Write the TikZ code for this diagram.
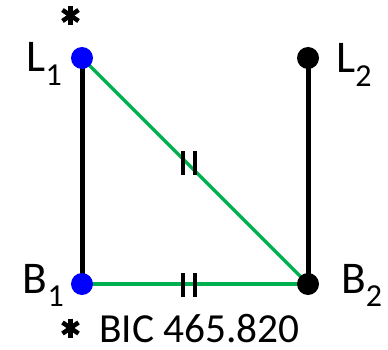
\documentclass[tikz,border=0pt]{standalone}
\usepackage{fontspec}
\setmainfont{Carlito}
\definecolor{pptgreen}{RGB}{0,176,80}
\definecolor{ptblue}{RGB}{0,0,255}
\tikzset{
  px/.style={x=0.75pt,y=-0.75pt},
  blackline/.style={line width=3.75pt,black},
  greenline/.style={line width=2.6pt,pptgreen},
  dot/.style={circle,inner sep=0pt,minimum size=16.5pt},
  lbl/.style={inner sep=0pt,font=\fontsize{34}{40}\selectfont},
  tick/.style={line width=3pt,black},
  starline/.style={line width=3.4pt,black},
  pics/asterisk/.style={code={
    \draw[starline] (0,-9.5) -- (0,9.5);
    \draw[starline] (-8,-5.5) -- (8,5.5);
    \draw[starline] (-8,5.5) -- (8,-5.5);
  }}
}
\newcommand{\sbs}[1]{{\fontsize{24}{24}\selectfont\raisebox{-10pt}{#1}}}
\begin{document}
\begin{tikzpicture}[px]
\useasboundingbox (0,0) rectangle (388,349);
\coordinate (l1) at (82,58);
\coordinate (b1) at (82,284);
\coordinate (l2) at (308,58);
\coordinate (b2) at (308,284);
\draw[blackline] (l1) -- (b1);
\draw[blackline] (l2) -- (b2);
\draw[greenline] (l1) -- (b2);
\draw[greenline] (b1) -- (b2);
\node[dot,fill=ptblue] (L1) at (l1) {};
\node[dot,fill=ptblue] (B1) at (b1) {};
\node[dot,fill=black] (L2) at (l2) {};
\node[dot,fill=black] (B2) at (b2) {};
% tick marks
\coordinate (t1) at (189,163);
\coordinate (t2) at (189,285);
\draw[tick] ([xshift=-4.5pt,yshift=9pt]t1) -- ([xshift=-4.5pt,yshift=-9pt]t1);
\draw[tick] ([xshift=4.5pt,yshift=9pt]t1) -- ([xshift=4.5pt,yshift=-9pt]t1);
\draw[tick] ([xshift=-4.5pt,yshift=9pt]t2) -- ([xshift=-4.5pt,yshift=-9pt]t2);
\draw[tick] ([xshift=4.5pt,yshift=9pt]t2) -- ([xshift=4.5pt,yshift=-9pt]t2);
% labels
\node[lbl,anchor=base east] (tL1) at (62,72) {L\sbs{1}};
\node[lbl,anchor=base east] (tB1) at (64,293) {B\sbs{1}};
\node[lbl,anchor=base west] (tL2) at (336,73) {L\sbs{2}};
\node[lbl,anchor=base west] (tB2) at (341,293) {B\sbs{2}};
\pic at (70.5,15.5) {asterisk};
\pic at (70.5,328) {asterisk};
\node[inner sep=0pt,anchor=base west,font=\fontsize{31}{36}\selectfont] (bic) at (99,342) {BIC 465.820};
\end{tikzpicture}
\end{document}
